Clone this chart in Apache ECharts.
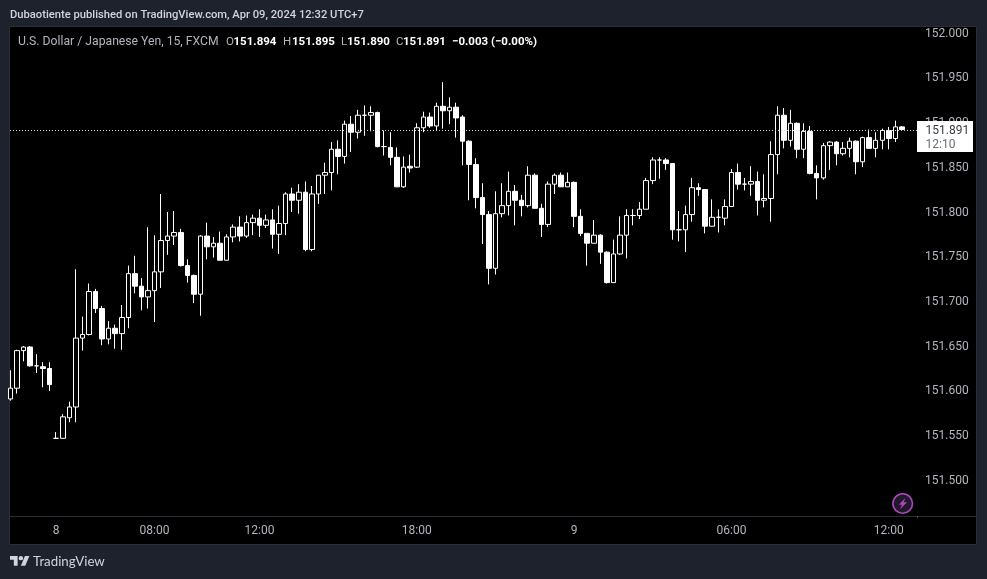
<!DOCTYPE html>
<html><head><meta charset="utf-8">
<style>html,body{margin:0;padding:0;background:#1e222d}#c{width:987px;height:579px}</style>
<script src="https://cdn.jsdelivr.net/npm/echarts@6/dist/echarts.min.js"></script>
</head><body><div id="c"></div>
<script>
const opens=[151.590,151.602,151.644,151.648,151.627,151.626,151.624,151.546,151.546,151.569,151.581,151.658,151.662,151.710,151.691,151.657,151.669,151.663,151.681,151.730,151.716,151.704,151.711,151.732,151.767,151.772,151.776,151.739,151.728,151.707,151.772,151.760,151.764,151.745,151.771,151.782,151.772,
151.787,151.792,151.784,151.790,151.774,151.786,151.819,151.812,151.821,151.757,151.819,151.840,151.843,151.869,151.861,151.897,151.888,151.907,151.907,151.910,151.872,151.871,151.860,151.827,151.850,151.849,151.893,151.905,151.895,151.917,151.912,151.916,151.905,151.878,151.852,
151.815,151.796,151.736,151.797,151.806,151.822,151.812,151.806,151.840,151.803,151.785,151.830,151.840,151.827,151.832,151.794,151.775,151.764,151.773,151.754,151.720,151.752,151.773,151.795,151.795,151.802,151.834,151.857,151.857,151.853,151.779,151.779,151.796,151.826,151.824,151.783,151.793,
151.792,151.805,151.843,151.830,151.830,151.833,151.812,151.814,151.863,151.907,151.879,151.898,151.869,151.889,151.842,151.837,151.873,151.877,151.864,151.870,151.878,151.855,151.882,151.870,151.879,151.890,151.881,151.894];
const closes=[151.602,151.644,151.648,151.627,151.627,151.624,151.606,151.546,151.570,151.581,151.658,151.662,151.710,151.691,151.657,151.669,151.663,151.681,151.730,151.716,151.704,151.711,151.732,151.767,151.772,151.776,151.739,151.728,151.707,151.772,151.760,151.764,151.745,151.771,151.782,151.772,151.787,
151.792,151.784,151.790,151.774,151.786,151.819,151.812,151.821,151.757,151.819,151.840,151.843,151.869,151.861,151.897,151.888,151.907,151.907,151.910,151.872,151.872,151.860,151.827,151.849,151.848,151.893,151.905,151.895,151.917,151.912,151.916,151.904,151.878,151.852,151.815,
151.796,151.736,151.797,151.806,151.822,151.812,151.806,151.840,151.803,151.785,151.830,151.840,151.827,151.832,151.794,151.775,151.764,151.773,151.754,151.720,151.752,151.773,151.795,151.795,151.802,151.834,151.857,151.857,151.853,151.779,151.779,151.796,151.826,151.824,151.783,151.793,151.793,
151.805,151.843,151.830,151.830,151.833,151.812,151.814,151.863,151.907,151.879,151.898,151.869,151.889,151.842,151.837,151.873,151.877,151.864,151.870,151.878,151.855,151.882,151.870,151.879,151.890,151.881,151.894,151.891];
const lows=[151.588,151.596,151.632,151.626,151.619,151.603,151.599,151.546,151.546,151.564,151.564,151.644,151.661,151.686,151.650,151.651,151.646,151.645,151.669,151.708,151.689,151.691,151.676,151.714,151.751,151.762,151.738,151.720,151.697,151.683,151.746,151.748,151.745,151.745,151.765,151.766,151.770,
151.773,151.771,151.781,151.758,151.752,151.773,151.799,151.797,151.755,151.755,151.808,151.819,151.823,151.841,151.853,151.866,151.881,151.884,151.889,151.871,151.862,151.851,151.827,151.826,151.843,151.848,151.888,151.893,151.890,151.892,151.897,151.882,151.851,151.812,151.803,
151.763,151.718,151.729,151.793,151.795,151.784,151.794,151.804,151.803,151.771,151.782,151.819,151.827,151.827,151.782,151.772,151.739,151.764,151.741,151.719,151.720,151.751,151.747,151.784,151.791,151.802,151.830,151.836,151.846,151.768,151.766,151.754,151.788,151.817,151.775,151.783,151.776,
151.784,151.805,151.824,151.823,151.817,151.795,151.804,151.788,151.841,151.870,151.872,151.859,151.859,151.841,151.813,151.835,151.846,151.851,151.862,151.860,151.841,151.849,151.870,151.860,151.869,151.869,151.877,151.890];
const highs=[151.622,151.645,151.649,151.649,151.640,151.631,151.631,151.553,151.573,151.587,151.735,151.682,151.719,151.713,151.694,151.677,151.673,151.695,151.739,151.750,151.725,151.782,151.773,151.819,151.799,151.800,151.780,151.746,151.729,151.773,151.787,151.771,151.777,151.774,151.785,151.794,151.795,
151.796,151.802,151.796,151.802,151.806,151.821,151.826,151.830,151.833,151.828,151.840,151.854,151.877,151.879,151.901,151.906,151.913,151.918,151.917,151.911,151.890,151.888,151.871,151.861,151.863,151.898,151.911,151.910,151.921,151.944,151.927,151.921,151.907,151.879,151.859,
151.831,151.800,151.822,151.831,151.844,151.829,151.818,151.850,151.842,151.808,151.833,151.842,151.843,151.843,151.833,151.802,151.775,151.790,151.774,151.755,151.768,151.794,151.802,151.802,151.810,151.837,151.860,151.860,151.859,151.853,151.800,151.806,151.837,151.831,151.824,151.813,151.802,
151.813,151.847,151.853,151.837,151.850,151.844,151.841,151.878,151.917,151.915,151.913,151.899,151.898,151.895,151.851,151.876,151.878,151.878,151.877,151.882,151.879,151.883,151.891,151.888,151.892,151.894,151.901,151.895];
const tickIndices=[7,22,38,62,86,110,134];
const tickLabels=["8","08:00","12:00","18:00","9","06:00","12:00"];
const priceTicks=[151.5,151.55,151.6,151.65,151.7,151.75,151.8,151.85,151.9,151.95,152.0];
const candles=opens.map((o,i)=>[i,o,closes[i],lows[i],highs[i]]);
const lastClose=closes[closes.length-1];
const FONT='Roboto';
const GREY='#b2b5be';
function T(x,y,text,fill,size,weight,family){return{type:'text',z:100,silent:true,style:{x,y,text,fill,font:(weight||'normal')+' '+(size||12)+'px '+(family||FONT),textVerticalAlign:'middle'}};}
const chart=echarts.init(document.getElementById('c'),null,{renderer:'canvas'});
const staticGraphics=[
 {type:'rect',z:-1,silent:true,shape:{x:9.5,y:26.5,width:967,height:518},style:{fill:'#000',stroke:'#2a2e39',lineWidth:1}},
 {type:'line',z:1,silent:true,shape:{x1:10,y1:516.5,x2:976,y2:516.5},style:{stroke:'#2a2e39',lineWidth:1}},
 {type:'line',z:1,silent:true,shape:{x1:917.5,y1:516,x2:917.5,y2:518},style:{stroke:'#50535e',lineWidth:1}},
 T(10,15.5,'Dubaotiente published on TradingView.com, Apr 09, 2024 12:32 UTC+7','#d1d4dc',11.2,'500'),
 T(18,42,'U.S. Dollar / Japanese Yen, 15, FXCM','#b2b5be',12.2),
 T(226,42,'O','#b2b5be',11.5),T(233.5,42,'151.894','#fff',11.5,'bold'),
 T(283,42,'H','#b2b5be',11.5),T(292,42,'151.895','#fff',11.5,'bold'),
 T(341,42,'L','#b2b5be',11.5),T(347,42,'151.890','#fff',11.5,'bold'),
 T(396,42,'C','#b2b5be',11.5),T(403,42,'151.891','#fff',11.5,'bold'),
 T(452,42,'\u22120.003 (\u22120.00%)','#fff',11.5,'bold'),
 {type:'circle',z:100,silent:true,shape:{cx:902.7,cy:503.5,r:9.8},style:{fill:'#22182b',stroke:'#ab47bc',lineWidth:1.6}},
 {type:'polygon',z:101,silent:true,shape:{points:[[905.5,497.8],[898.8,504.8],[902,504.8],[900,509.3],[907,502.3],[903.6,502.3]]},style:{fill:'#ab47bc'}},
 {type:'group',z:100,silent:true,x:10,y:553.8,scaleX:0.545,scaleY:0.545,children:[
   {type:'polygon',shape:{points:[[0,4],[14,4],[14,22],[7,22],[7,11],[0,11]]},style:{fill:'#d1d4dc'}},
   {type:'polygon',shape:{points:[[20,22],[28,22],[35.5,4],[27.5,4]]},style:{fill:'#d1d4dc'}},
   {type:'circle',shape:{cx:20,cy:8,r:4},style:{fill:'#d1d4dc'}}]},
 T(33,562,'TradingView','#d1d4dc',13.3,'normal','Lato')
];
chart.setOption({
 animation:false,backgroundColor:'#1e222d',
 grid:{left:10,top:27,width:907,height:489,containLabel:false},
 xAxis:{type:'value',min:-0.05,max:138.3,splitLine:{show:false},axisLine:{show:false},axisTick:{show:false},
   axisLabel:{customValues:tickIndices,color:GREY,fontFamily:FONT,fontSize:12,margin:9,showMinLabel:true,showMaxLabel:true,
     formatter:v=>tickLabels[tickIndices.indexOf(v)]??''}},
 yAxis:{type:'value',position:'right',min:151.4592,max:152.0056,scale:true,splitLine:{show:false},axisLine:{show:false},axisTick:{show:false},
   axisLabel:{customValues:priceTicks,color:GREY,fontFamily:FONT,fontSize:12,margin:8,verticalAlign:'top',lineHeight:3,formatter:v=>v.toFixed(3)}},
 graphic:{elements:staticGraphics},
 series:[{type:'candlestick',data:candles,barWidth:5,clip:true,
   itemStyle:{color:'#000',color0:'#fff',borderColor:'#fff',borderColor0:'#fff',borderColorDoji:'#fff',borderWidth:1},
   markLine:{silent:true,symbol:'none',label:{show:false},animation:false,
     lineStyle:{color:'#d1d4dc',type:[1,2],width:1,opacity:1},data:[{yAxis:lastClose}]}}]
});
const yLast=chart.convertToPixel({yAxisIndex:0},lastClose);
chart.setOption({graphic:{elements:[
 {type:'rect',id:'box',z:102,silent:true,shape:{x:917,y:yLast-8.5,width:56,height:31},style:{fill:'#fff'}},
 {...T(925.5,yLast+1.5,lastClose.toFixed(3),'#363a45',12),id:'boxA',z:103},
 {...T(925.5,yLast+15,'12:10','#6a6d78',12),id:'boxB',z:103}
]}});
</script></body></html>
